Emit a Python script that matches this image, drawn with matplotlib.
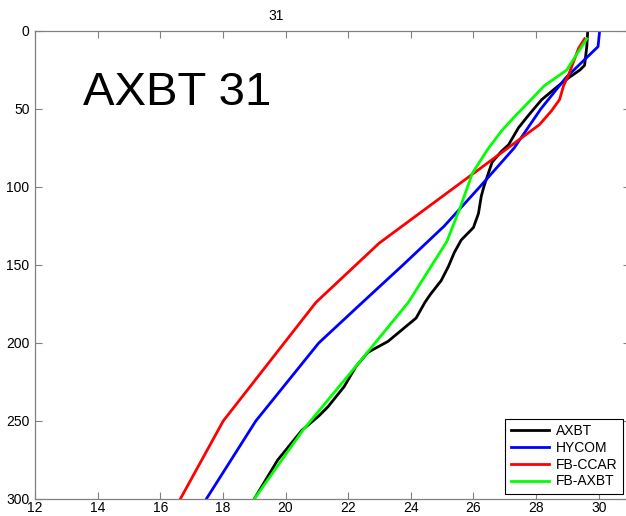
import matplotlib
matplotlib.use("Agg")
import matplotlib.pyplot as plt

plt.rcParams['font.family'] = ['Liberation Sans', 'DejaVu Sans']

# AXBT (observed)
axbt_depth = [0, 10, 22, 25, 30, 35, 44, 54, 62, 73, 77, 84, 91, 100, 106, 117, 126, 134,
              142, 151, 160, 169, 174, 184, 192, 199, 206, 215, 228, 241, 247, 256, 275, 300]
axbt_temp = [29.65, 29.62, 29.55, 29.4, 29.04, 28.72, 28.18, 27.76, 27.44, 27.12, 26.9, 26.6,
             26.48, 26.33, 26.25, 26.16, 26.0, 25.61, 25.39, 25.2, 24.97, 24.62, 24.45, 24.17,
             23.69, 23.27, 22.63, 22.25, 21.87, 21.35, 21.05, 20.52, 19.75, 19.0]

# HYCOM
hycom_depth = [0, 10, 30, 50, 75, 100, 125, 150, 175, 200, 250, 300]
hycom_temp = [30.03, 29.98, 28.95, 28.15, 27.3, 26.2, 25.07, 23.75, 22.4, 21.06, 19.05, 17.47]

# FB-CCAR
ccar_depth = [5, 11, 28, 35, 44, 51, 60, 136, 174, 250, 300]
ccar_temp = [29.55, 29.36, 29.04, 28.88, 28.75, 28.5, 28.11, 22.99, 20.97, 18.01, 16.64]

# FB-AXBT
fbaxbt_depth = [5, 13, 25, 35, 55, 64, 76, 91, 113, 135, 174, 211, 256, 300]
fbaxbt_temp = [29.62, 29.36, 28.98, 28.27, 27.31, 26.9, 26.45, 25.97, 25.58, 25.15, 23.92,
               22.41, 20.55, 19.0]

labels = ['AXBT', 'HYCOM', 'FB-CCAR', 'FB-AXBT']
colors = ['#000000', '#0000ff', '#ff0000', '#00ff00']
xticks = [12, 14, 16, 18, 20, 22, 24, 26, 28, 30]
yticks = [0, 50, 100, 150, 200, 250, 300]

W, H = 626, 516
fig = plt.figure(figsize=(W / 100, H / 100), dpi=100)
ax = fig.add_axes([35 / W, 1 - 499 / H, (630 - 35) / W, (499 - 31) / H])

series = [(axbt_temp, axbt_depth), (hycom_temp, hycom_depth),
          (ccar_temp, ccar_depth), (fbaxbt_temp, fbaxbt_depth)]
for (t, d), c, lab in zip(series, colors, labels):
    ax.plot(t, d, color=c, lw=2.0, label=lab)

ax.set_xlim(12, 31)
ax.set_ylim(300, 0)
ax.set_xticks(xticks)
ax.set_yticks(yticks)
ax.tick_params(direction='in', length=5, width=0.8, color='#808080',
               labelsize=10, top=True, right=True, pad=4)
ax.tick_params(axis='x', pad=1.5)
for s in ax.spines.values():
    s.set_color('#808080')
    s.set_linewidth(0.9)

fig.text(276 / W, 1 - 16 / H, '31', ha='center', va='center', fontsize=10)
fig.text(83 / W, 1 - 93 / H, 'AXBT 31', ha='left', va='center', fontsize=34)

leg = ax.legend(loc='lower right', bbox_to_anchor=(623 / W, 1 - 494 / H),
                bbox_transform=fig.transFigure, borderaxespad=0, fontsize=10,
                handlelength=2.75, handletextpad=0.5, labelspacing=0.2,
                borderpad=0.4, fancybox=False, framealpha=1)
leg.get_frame().set_edgecolor('#000000')
leg.get_frame().set_linewidth(0.8)

fig.savefig('out.png', dpi=100)
